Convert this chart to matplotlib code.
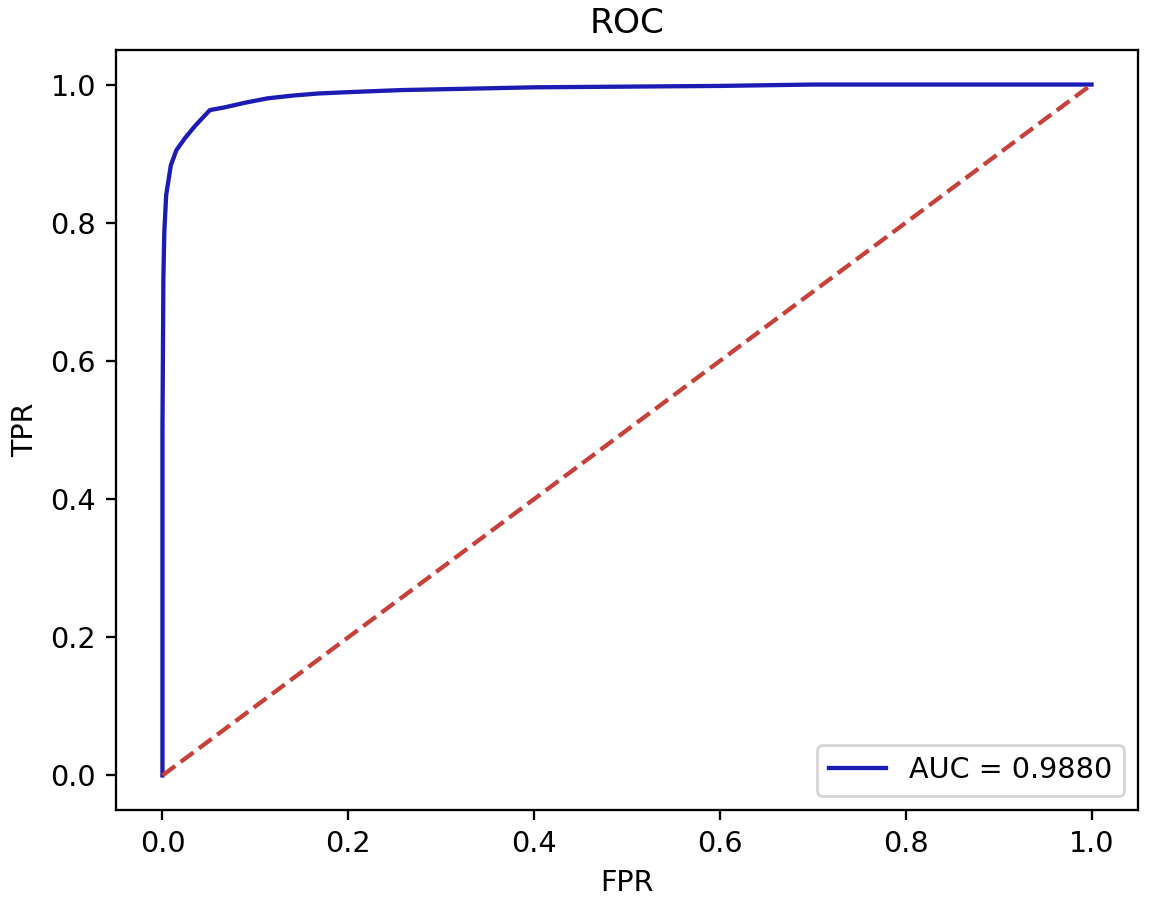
import numpy as np
import matplotlib
matplotlib.use("Agg")
import matplotlib.pyplot as plt

# ==================================
# Dados lidos da curva ROC
# ==================================

fpr = [0.0, 0.0, 0.001, 0.002, 0.004, 0.009, 0.015, 0.024, 0.035, 0.051,
       0.067, 0.09, 0.113, 0.14, 0.167, 0.2, 0.257, 0.33, 0.4, 0.5,
       0.6, 0.7, 0.8, 0.9, 1.0]
tpr = [0.0, 0.5, 0.72, 0.787, 0.84, 0.883, 0.905, 0.922, 0.94, 0.963,
       0.967, 0.974, 0.980, 0.984, 0.987, 0.989, 0.992, 0.994, 0.996, 0.997,
       0.998, 1.0, 1.0, 1.0, 1.0]

auc_valor = 0.9880

# ==================================
# Grafico
# ==================================

dpi = 206
fig = plt.figure(figsize=(1162 / dpi, 904 / dpi), dpi=dpi)
ax = fig.add_axes([116 / 1162, 1 - 810 / 904, 1022 / 1162, 760 / 904])

ax.plot(fpr, tpr, color="#1c1cb4", label="AUC = %0.4f" % auc_valor)
ax.plot([0, 1], [0, 1], "--", color="#c8403a")

ax.set_title("ROC")
ax.set_xlabel("FPR")
ax.set_ylabel("TPR")
ax.legend(loc="lower right")

fig.savefig("out.png", dpi=dpi)
